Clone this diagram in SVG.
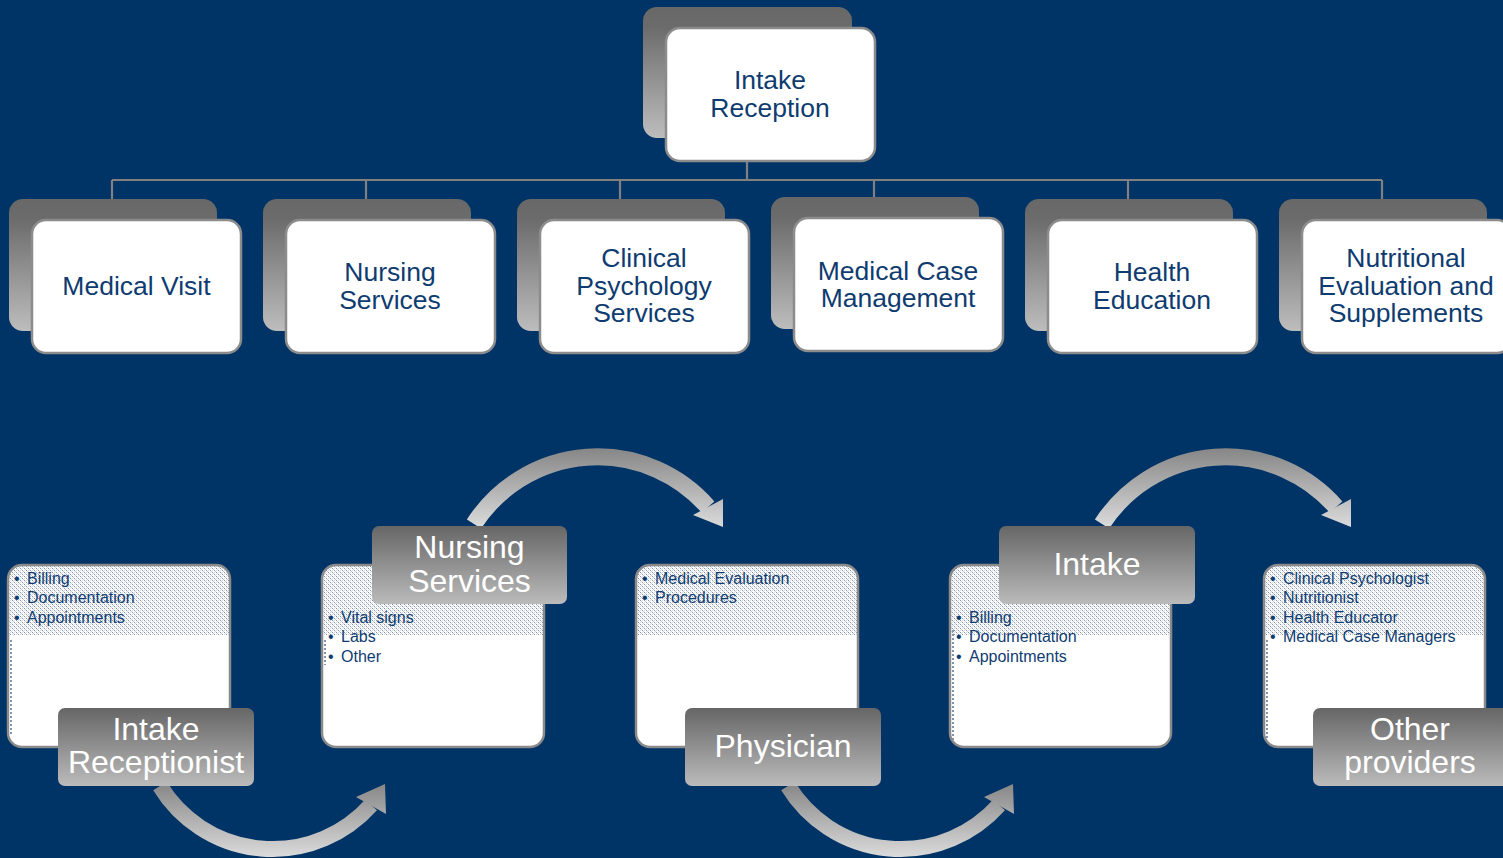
<svg xmlns="http://www.w3.org/2000/svg" width="1503" height="858" viewBox="0 0 1503 858">
<style>
.bg{fill:#003366}
.back{fill:url(#gBack)}
.front{fill:#ffffff;stroke:#8c8c8c;stroke-width:2.5}
.ttl{font-family:"Liberation Sans",Arial,sans-serif;font-size:26.5px;fill:#0f3c70;text-anchor:middle}
.card{fill:#ffffff}
.dots{fill:url(#dots)}
.cardline{fill:none;stroke:#8a8a8a;stroke-width:2.5}
.edge{fill:none;stroke:#7f93b3;stroke-width:2;stroke-dasharray:2 2}
.lst{font-family:"Liberation Sans",Arial,sans-serif;font-size:16px;fill:#0f3c70}
.lbl{fill:url(#gLabel)}
.lbltxt{font-family:"Liberation Sans",Arial,sans-serif;font-size:32px;fill:#ffffff;text-anchor:middle}
.conn{fill:none;stroke:#808080;stroke-width:2.2}
.arcT{fill:none;stroke:url(#gArcT);stroke-width:17}
.arcT2{fill:none;stroke:url(#gArcT2);stroke-width:17}
.arcB{fill:none;stroke:url(#gArcB);stroke-width:16}
.arcB2{fill:none;stroke:url(#gArcB2);stroke-width:16}
</style>
<defs>
<linearGradient id="gBack" x1="0" y1="0" x2="0" y2="1">
<stop offset="0" stop-color="#686868"/>
<stop offset="0.15" stop-color="#6b6b6b"/>
<stop offset="1" stop-color="#bdbdbd"/>
</linearGradient>
<linearGradient id="gLabel" x1="0" y1="0" x2="0" y2="1">
<stop offset="0" stop-color="#666666"/>
<stop offset="1" stop-color="#bbbbbb"/>
</linearGradient>
<linearGradient id="gArcT" gradientUnits="userSpaceOnUse" x1="0" y1="447" x2="0" y2="528">
<stop offset="0" stop-color="#858585"/>
<stop offset="1" stop-color="#dcdcdc"/>
</linearGradient>
<linearGradient id="gArcT2" href="#gArcT"/>
<linearGradient id="gArcB" gradientUnits="userSpaceOnUse" x1="0" y1="782" x2="0" y2="858">
<stop offset="0" stop-color="#858585"/>
<stop offset="1" stop-color="#dcdcdc"/>
</linearGradient>
<linearGradient id="gArcB2" href="#gArcB"/>
<pattern id="dots" width="4" height="4" patternUnits="userSpaceOnUse">
<rect width="4" height="4" fill="#ffffff"/>
<rect x="0" y="0" width="1" height="1" fill="#8392ab"/>
<rect x="2" y="2" width="1" height="1" fill="#8392ab"/>
<rect x="1" y="1" width="1" height="1" fill="#c8d0dc"/>
<rect x="3" y="3" width="1" height="1" fill="#c8d0dc"/>
<rect x="2" y="0" width="1" height="1" fill="#d6dce5"/>
<rect x="0" y="2" width="1" height="1" fill="#d6dce5"/>
</pattern>
</defs>

<rect class="bg" x="0" y="0" width="1503" height="858"/>

<g id="connectors">
<path class="conn" d="M747,161 V180 M112,180 H1382 M112,180 V199 M366,180 V199 M620,180 V199 M874,180 V198 M1128,180 V199 M1382,180 V199"/>
</g>

<g id="intake-reception">
<rect class="back" x="643" y="7" width="209" height="131" rx="14"/>
<rect class="front" x="666" y="28" width="209" height="133" rx="14"/>
<text class="ttl" x="770" y="89">Intake</text>
<text class="ttl" x="770" y="117">Reception</text>
</g>

<g id="medical-visit">
<rect class="back" x="9" y="199" width="208" height="132" rx="14"/>
<rect class="front" x="32" y="220" width="209" height="133" rx="14"/>
<text class="ttl" x="136.5" y="295">Medical Visit</text>
</g>

<g id="nursing-services">
<rect class="back" x="263" y="199" width="208" height="132" rx="14"/>
<rect class="front" x="286" y="220" width="209" height="133" rx="14"/>
<text class="ttl" x="390" y="281">Nursing</text>
<text class="ttl" x="390" y="309">Services</text>
</g>

<g id="clinical-psychology">
<rect class="back" x="517" y="199" width="208" height="132" rx="14"/>
<rect class="front" x="540" y="220" width="209" height="133" rx="14"/>
<text class="ttl" x="644" y="267">Clinical</text>
<text class="ttl" x="644" y="295">Psychology</text>
<text class="ttl" x="644" y="322">Services</text>
</g>

<g id="medical-case-management">
<rect class="back" x="771" y="197" width="208" height="132" rx="14"/>
<rect class="front" x="794" y="218" width="209" height="133" rx="14"/>
<text class="ttl" x="898" y="280">Medical Case</text>
<text class="ttl" x="898" y="307">Management</text>
</g>

<g id="health-education">
<rect class="back" x="1025" y="199" width="208" height="132" rx="14"/>
<rect class="front" x="1048" y="220" width="209" height="133" rx="14"/>
<text class="ttl" x="1152" y="281">Health</text>
<text class="ttl" x="1152" y="309">Education</text>
</g>

<g id="nutritional-evaluation">
<rect class="back" x="1279" y="199" width="208" height="132" rx="14"/>
<rect class="front" x="1302" y="220" width="209" height="133" rx="14"/>
<text class="ttl" x="1406" y="267">Nutritional</text>
<text class="ttl" x="1406" y="295">Evaluation and</text>
<text class="ttl" x="1406" y="322">Supplements</text>
</g>

<g id="flow-arrows">
<path class="arcB" d="M160,786 A132,132 0 0 0 371,805"/>
<polygon fill="url(#gArcB)" points="356,797 386,814 385,784"/>
<path class="arcT" d="M474,524 A147,147 0 0 1 708,507"/>
<polygon fill="url(#gArcT)" points="693,515 723,499 723,527"/>
<path class="arcB2" d="M788,786 A132,132 0 0 0 999,805"/>
<polygon fill="url(#gArcB2)" points="984,797 1014,814 1013,784"/>
<path class="arcT2" d="M1102,524 A147,147 0 0 1 1336,507"/>
<polygon fill="url(#gArcT2)" points="1321,515 1351,499 1351,527"/>
</g>

<g id="card-intake-receptionist">
<rect class="card" x="8" y="565" width="222" height="182" rx="14"/>
<path class="dots" d="M8,635 V579 A14,14 0 0 1 22,565 H216 A14,14 0 0 1 230,579 V635 Z"/>
<path class="edge" d="M11,640 V735"/>
<rect class="cardline" x="8" y="565" width="222" height="182" rx="14"/>
<text class="lst" x="14" y="584">•</text><text class="lst" x="27" y="584">Billing</text>
<text class="lst" x="14" y="603">•</text><text class="lst" x="27" y="603">Documentation</text>
<text class="lst" x="14" y="623">•</text><text class="lst" x="27" y="623">Appointments</text>
<rect class="lbl" x="58" y="708" width="196" height="78" rx="7"/>
<text class="lbltxt" x="156" y="740">Intake</text>
<text class="lbltxt" x="156" y="773">Receptionist</text>
</g>

<g id="card-nursing-services">
<rect class="card" x="322" y="565" width="222" height="182" rx="14"/>
<path class="dots" d="M322,635 V579 A14,14 0 0 1 336,565 H530 A14,14 0 0 1 544,579 V635 Z"/>
<path class="edge" d="M325,640 V665"/>
<rect class="cardline" x="322" y="565" width="222" height="182" rx="14"/>
<text class="lst" x="328" y="623">•</text><text class="lst" x="341" y="623">Vital signs</text>
<text class="lst" x="328" y="642">•</text><text class="lst" x="341" y="642">Labs</text>
<text class="lst" x="328" y="662">•</text><text class="lst" x="341" y="662">Other</text>
<rect class="lbl" x="372" y="526" width="195" height="78" rx="7"/>
<text class="lbltxt" x="469.5" y="558">Nursing</text>
<text class="lbltxt" x="469.5" y="592">Services</text>
</g>

<g id="card-physician">
<rect class="card" x="636" y="565" width="222" height="182" rx="14"/>
<path class="dots" d="M636,635 V579 A14,14 0 0 1 650,565 H844 A14,14 0 0 1 858,579 V635 Z"/>
<rect class="cardline" x="636" y="565" width="222" height="182" rx="14"/>
<text class="lst" x="642" y="584">•</text><text class="lst" x="655" y="584">Medical Evaluation</text>
<text class="lst" x="642" y="603">•</text><text class="lst" x="655" y="603">Procedures</text>
<rect class="lbl" x="685" y="708" width="196" height="78" rx="7"/>
<text class="lbltxt" x="783" y="757">Physician</text>
</g>

<g id="card-intake">
<rect class="card" x="950" y="565" width="221" height="182" rx="14"/>
<path class="dots" d="M950,635 V579 A14,14 0 0 1 964,565 H1157 A14,14 0 0 1 1171,579 V635 Z"/>
<path class="edge" d="M953,630 V740"/>
<rect class="cardline" x="950" y="565" width="221" height="182" rx="14"/>
<text class="lst" x="956" y="623">•</text><text class="lst" x="969" y="623">Billing</text>
<text class="lst" x="956" y="642">•</text><text class="lst" x="969" y="642">Documentation</text>
<text class="lst" x="956" y="662">•</text><text class="lst" x="969" y="662">Appointments</text>
<rect class="lbl" x="999" y="526" width="196" height="78" rx="7"/>
<text class="lbltxt" x="1097" y="575">Intake</text>
</g>

<g id="card-other-providers">
<rect class="card" x="1264" y="565" width="221" height="182" rx="14"/>
<path class="dots" d="M1264,635 V579 A14,14 0 0 1 1278,565 H1471 A14,14 0 0 1 1485,579 V635 Z"/>
<path class="edge" d="M1267,640 V740"/>
<rect class="cardline" x="1264" y="565" width="221" height="182" rx="14"/>
<text class="lst" x="1270" y="584">•</text><text class="lst" x="1283" y="584">Clinical Psychologist</text>
<text class="lst" x="1270" y="603">•</text><text class="lst" x="1283" y="603">Nutritionist</text>
<text class="lst" x="1270" y="623">•</text><text class="lst" x="1283" y="623">Health Educator</text>
<text class="lst" x="1270" y="642">•</text><text class="lst" x="1283" y="642">Medical Case Managers</text>
<rect class="lbl" x="1313" y="708" width="196" height="78" rx="7"/>
<text class="lbltxt" x="1410" y="740">Other</text>
<text class="lbltxt" x="1410" y="773">providers</text>
</g>
</svg>
